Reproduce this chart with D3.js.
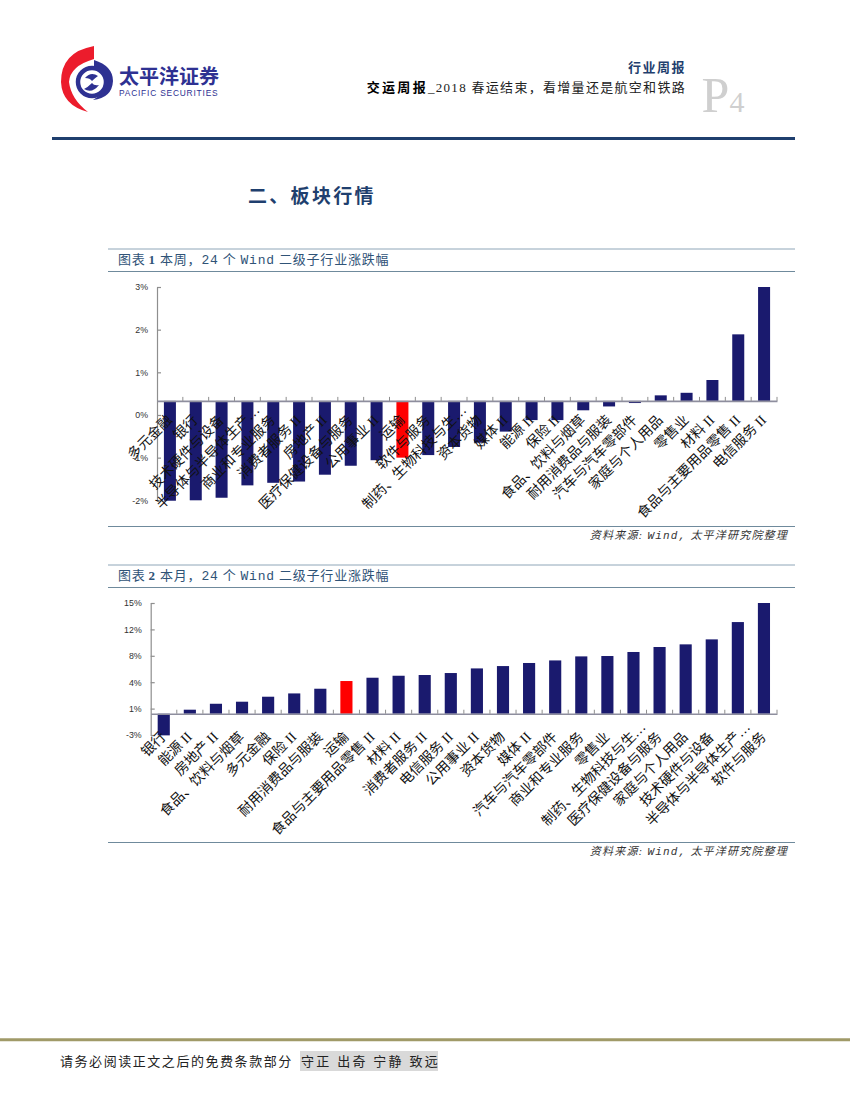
<!DOCTYPE html>
<html lang="zh">
<head>
<meta charset="utf-8">
<script src="https://d3js.org/d3.v7.min.js"></script>
<style>
  html, body { margin: 0; padding: 0; background: #fff; }
  svg { display: block; }
  text { font-family: "Liberation Serif", "Noto Sans CJK SC", serif; }
  .num text, text.num { font-family: "Liberation Sans", "Noto Sans CJK SC", sans-serif; }
  .mono { font-family: "Liberation Mono", monospace; }
</style>
</head>
<body>
<svg id="page" width="850" height="1100"></svg>
<script>
// chart 1: this week
var weekNames = ["多元金融", "银行", "技术硬件与设备", "半导体与半导体生产…", "商业和专业服务", "消费者服务 II",
  "房地产 II", "医疗保健设备与服务", "公用事业 II", "运输", "软件与服务", "制药、生物科技与生…",
  "资本货物", "媒体 II", "能源 II", "保险 II", "食品、饮料与烟草", "耐用消费品与服装",
  "汽车与汽车零部件", "家庭与个人用品", "零售业", "材料 II", "食品与主要用品零售 II", "电信服务 II"];
var weekValues = [-2.34, -2.33, -2.27, -1.98, -1.92, -1.89, -1.73, -1.52, -1.39, -1.33, -1.27, -1.08,
  -0.98, -0.72, -0.45, -0.45, -0.22, -0.13, -0.05, 0.13, 0.19, 0.49, 1.56, 2.67];
var weekTicks = [-2.33, -1.33, -0.33, 0.67, 1.67, 2.67];
var weekTickLabels = ["-2%", "-1%", "0%", "1%", "2%", "3%"];

// chart 2: this month
var monthNames = ["银行", "能源 II", "房地产 II", "食品、饮料与烟草", "多元金融", "保险 II", "耐用消费品与服装", "运输",
  "食品与主要用品零售 II", "材料 II", "消费者服务 II", "电信服务 II", "公用事业 II", "资本货物", "媒体 II",
  "汽车与汽车零部件", "商业和专业服务", "零售业", "制药、生物科技与生…", "医疗保健设备与服务",
  "家庭与个人用品", "技术硬件与设备", "半导体与半导体生产…", "软件与服务"];
var monthValues = [-2.95, 0.55, 1.36, 1.64, 2.32, 2.77, 3.41, 4.46, 4.91, 5.18, 5.28, 5.55,
  6.18, 6.5, 6.92, 7.27, 7.82, 7.87, 8.42, 9.1, 9.46, 10.14, 12.5, 15.1];
var monthTicks = [-2.9, 0.7, 4.3, 7.9, 11.5, 15.1];
var monthTickLabels = ["-3%", "1%", "4%", "8%", "12%", "15%"];

var highlight = "运输";
var navy = "#1f3f6e";
var svg = d3.select("#page");

function line(x1, x2, y, color, w) {
  svg.append("line").attr("x1", x1).attr("x2", x2).attr("y1", y).attr("y2", y)
    .attr("stroke", color).attr("stroke-width", w);
}

function text(x, y, str, size, color, anchor) {
  return svg.append("text").attr("x", x).attr("y", y).text(str)
    .attr("font-size", size).attr("fill", color).attr("text-anchor", anchor || "start");
}

// logo
var logo = svg.append("g");
logo.append("path").attr("fill", "#ec1c2c")
  .attr("d", "M94 46 Q61 52 61 82 Q62 105 88 112 Q71 99 69 82 Q70 66 94 59 Z");
logo.append("path").attr("fill", "#2e3192")
  .attr("d", "M94 60 Q113 66 113 81 Q112 98 93 100 Q106 93 107 81 Q106 72 94 69 Z");
logo.append("circle").attr("cx", 92).attr("cy", 82).attr("r", 14)
  .attr("fill", "none").attr("stroke", "#2e3192").attr("stroke-width", 4.5);
logo.append("path").attr("fill", "#2e3192")
  .attr("d", "M84 89 Q92 94 99 85 Q94 86 92 83 Q88 87 84 89 Z M98 76 Q91 71 85 78 Q90 78 92 81 Q95 78 98 76 Z");
svg.append("text").attr("x", 119).attr("y", 83.5).text("太平洋证券")
  .attr("font-size", 20).attr("font-weight", 700).attr("fill", "#2e3192")
  .style("font-family", "'Noto Sans CJK SC'");
svg.append("text").attr("class", "num").attr("x", 119).attr("y", 95.5).text("PACIFIC SECURITIES")
  .attr("font-size", 8.4).attr("fill", "#2e3192").attr("letter-spacing", 0.8);

// page header
text(686, 72, "行业周报", 13, navy, "end").attr("font-weight", 700).attr("letter-spacing", 1.5);
var sub = text(686, 92, "", 13, "#222", "end").attr("letter-spacing", 1.3);
sub.append("tspan").text("交运周报").attr("font-weight", 700).attr("fill", "#000").attr("letter-spacing", 2.3);
sub.append("tspan").text("_2018 春运结束，看增量还是航空和铁路");
text(701.5, 112, "P", 50, "#cfcfcf");
text(729.5, 112, "4", 30, "#cfcfcf");
line(52, 795, 138.5, navy, 3);

text(248, 203, "二、板块行情", 19, navy).attr("font-weight", 700).attr("letter-spacing", 2.3);

function drawChart(c) {
  line(108, 795, c.top, "#8fa6b8", 1);
  line(108, 795, c.top + 22.5, "#6f8a9c", 1);
  line(108, 795, c.bottom, "#6f8a9c", 1);

  var title = text(118, c.top + 14.5, "", 13, "#2f5377").attr("letter-spacing", 0.8);
  title.append("tspan").text("图表");
  title.append("tspan").text(c.num).attr("font-weight", 700).attr("class", "num").attr("dx", 3);
  title.append("tspan").text(" " + c.period + "，");
  title.append("tspan").text("24").attr("class", "mono");
  title.append("tspan").text(" 个 ");
  title.append("tspan").text("Wind").attr("class", "mono");
  title.append("tspan").text(" 二级子行业涨跌幅");

  var source = text(788, c.bottom + 12, "", 11, "#333", "end")
    .attr("font-style", "italic").attr("letter-spacing", 1.2);
  source.append("tspan").text("资料来源: ");
  source.append("tspan").text("Wind,").attr("class", "mono");
  source.append("tspan").text(" 太平洋研究院整理");

  var x = d3.scaleBand().domain(c.names).range([c.left, c.right])
    .paddingInner(0.535).paddingOuter(0.2675);
  var y = d3.scaleLinear().domain([c.ticks[0], c.ticks[c.ticks.length - 1]]).range([c.yBottom, c.yTop]);
  var step = x.step();

  var g = svg.append("g");
  g.selectAll("rect").data(c.values).enter().append("rect")
    .attr("x", function(d, i) { return x(c.names[i]); })
    .attr("width", x.bandwidth())
    .attr("y", function(d) { return y(Math.max(0, d)); })
    .attr("height", function(d) { return Math.abs(y(d) - y(0)); })
    .attr("fill", function(d, i) { return c.names[i] === highlight ? "#ff0000" : "#1a1a6e"; });

  // y axis with rounded labels, ticks pointing into the plot
  var yAxis = d3.axisLeft(y).tickValues(c.ticks).tickSizeInner(-4).tickSizeOuter(0).tickPadding(c.yPad)
    .tickFormat(function(d, i) { return c.tickLabels[i]; });
  var yg = svg.append("g").attr("class", "num").attr("transform", "translate(" + c.left + ",0)").call(yAxis);
  yg.selectAll("text").attr("font-size", 8.8).attr("fill", "#333");
  yg.selectAll("line, path").attr("stroke", "#8e8e8e").attr("stroke-width", 1.2);

  // category axis sits on the zero line
  var xAxis = d3.axisBottom(x).tickSize(0).tickPadding(0);
  var xg = svg.append("g").attr("transform", "translate(0," + y(0) + ")").call(xAxis);
  xg.select("path").attr("stroke", "#8e8e9e").attr("stroke-width", 1.6);
  xg.selectAll("text")
    .attr("font-size", 14).attr("fill", "#111").attr("text-anchor", "end")
    .attr("dy", 0).attr("y", 0)
    .attr("transform", function(d) {
      // truncated names run a bit further up past the tick
      var extra = d.slice(-1) === "…" ? 10 : 0;
      return "translate(" + (3 + extra) + "," + (c.labelY - extra) + ") rotate(-45)";
    });

  // small ticks between the categories
  xg.selectAll("line.sep").data(c.names).enter().append("line").attr("class", "sep")
    .attr("x1", function(d) { return x(d) + x.bandwidth() / 2 + step / 2; })
    .attr("x2", function(d) { return x(d) + x.bandwidth() / 2 + step / 2; })
    .attr("y1", 0).attr("y2", -4)
    .attr("stroke", "#8e8e8e").attr("stroke-width", 1);
}

drawChart({ num: "1", period: "本周", top: 249, bottom: 526.5, left: 157, right: 777, yTop: 287, yBottom: 500.3,
  yPad: 9, labelY: 20, names: weekNames, values: weekValues, ticks: weekTicks, tickLabels: weekTickLabels });
drawChart({ num: "2", period: "本月", top: 565, bottom: 842.5, left: 150.7, right: 777, yTop: 603, yBottom: 735,
  yPad: 9, labelY: 24, names: monthNames, values: monthValues, ticks: monthTicks, tickLabels: monthTickLabels });

// footer
line(0, 850, 1039.7, "#a09a68", 3);
text(60, 1066, "请务必阅读正文之后的免费条款部分", 13, "#222").attr("letter-spacing", 1.55);
svg.append("rect").attr("x", 300).attr("y", 1051).attr("width", 138).attr("height", 20).attr("fill", "#d9d9d9");
text(301, 1066, "守正 出奇 宁静 致远", 13, "#222").attr("letter-spacing", 2.3);
</script>
</body>
</html>
